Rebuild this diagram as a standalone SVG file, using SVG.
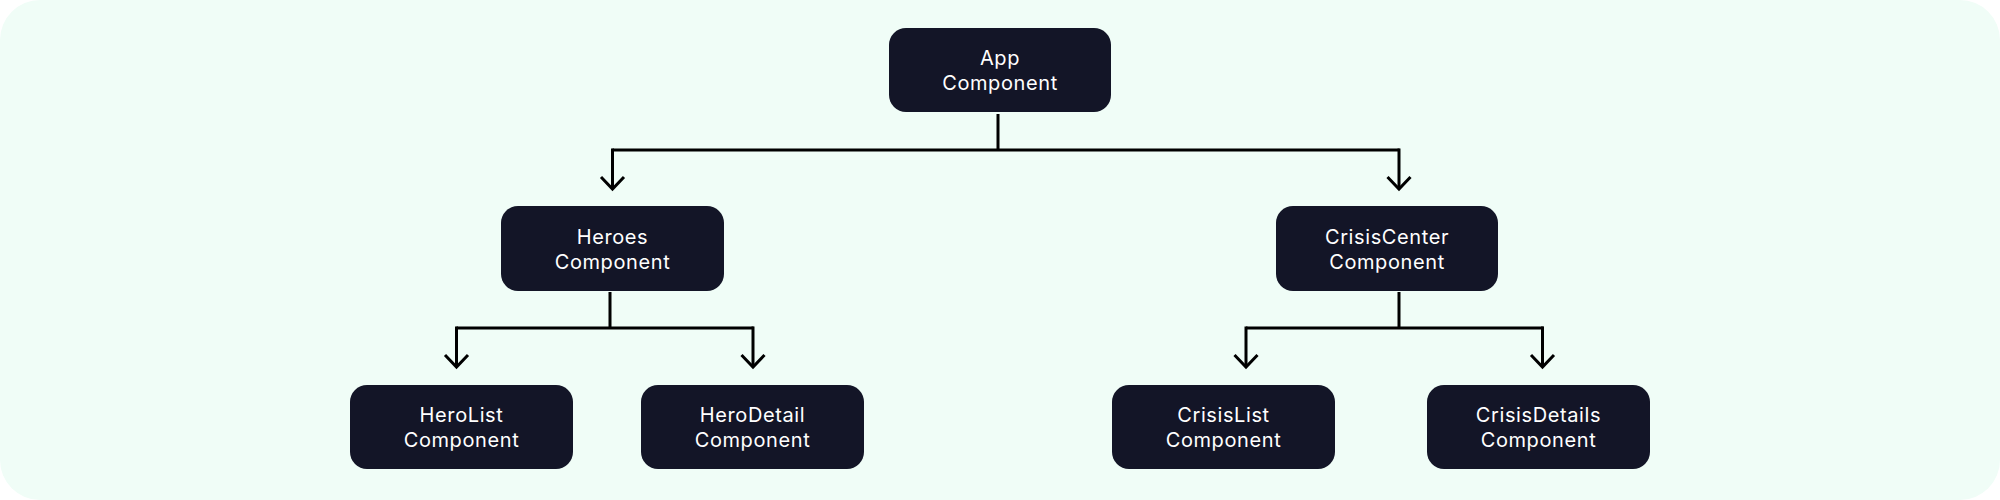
<svg xmlns="http://www.w3.org/2000/svg" width="2000" height="500" viewBox="0 0 2000 500">
<style>
.node rect{fill:#131527;}
.node text{fill:#ffffff;font-family:Inter,"Liberation Sans",sans-serif;font-size:20px;letter-spacing:0.6px;text-anchor:middle;}
.conn path{fill:none;stroke:#000000;stroke-width:3;}
</style>
<defs>
<marker id="arr" viewBox="-14 -14 28 28" markerWidth="28" markerHeight="28" refX="0" refY="0" orient="auto" markerUnits="userSpaceOnUse">
<path d="M-12,-11.5 L0,0 L-12,11.5" fill="none" stroke="#000" stroke-width="3"/>
</marker>
</defs>
<rect x="0" y="0" width="2000" height="500" rx="40" fill="#f0fdf7"/>
<g class="conn">
<path d="M998,114 V150 M612.5,150 H1399.5"/>
<path d="M612.5,148.5 V189" marker-end="url(#arr)"/>
<path d="M1399,148.5 V189" marker-end="url(#arr)"/>
<path d="M610,292 V328 M456.5,328 H753.5"/>
<path d="M456.5,326.5 V367" marker-end="url(#arr)"/>
<path d="M753,326.5 V367" marker-end="url(#arr)"/>
<path d="M1399,292 V328 M1246,328 H1543.5"/>
<path d="M1246,326.5 V367" marker-end="url(#arr)"/>
<path d="M1542.5,326.5 V367" marker-end="url(#arr)"/>
</g>
<g id="app" class="node"><rect x="889" y="28" width="222" height="84" rx="17"/><text x="1000" y="65">App</text><text x="1000" y="90">Component</text></g>
<g id="heroes" class="node"><rect x="501" y="206" width="223" height="85" rx="17"/><text x="612.5" y="243.5">Heroes</text><text x="612.5" y="268.5">Component</text></g>
<g id="crisiscenter" class="node"><rect x="1276" y="206" width="222" height="85" rx="17"/><text x="1387" y="243.5">CrisisCenter</text><text x="1387" y="268.5">Component</text></g>
<g id="herolist" class="node"><rect x="350" y="385" width="223" height="84" rx="17"/><text x="461.5" y="422">HeroList</text><text x="461.5" y="447">Component</text></g>
<g id="herodetail" class="node"><rect x="641" y="385" width="223" height="84" rx="17"/><text x="752.5" y="422">HeroDetail</text><text x="752.5" y="447">Component</text></g>
<g id="crisislist" class="node"><rect x="1112" y="385" width="223" height="84" rx="17"/><text x="1223.5" y="422">CrisisList</text><text x="1223.5" y="447">Component</text></g>
<g id="crisisdetails" class="node"><rect x="1427" y="385" width="223" height="84" rx="17"/><text x="1538.5" y="422">CrisisDetails</text><text x="1538.5" y="447">Component</text></g>
</svg>
